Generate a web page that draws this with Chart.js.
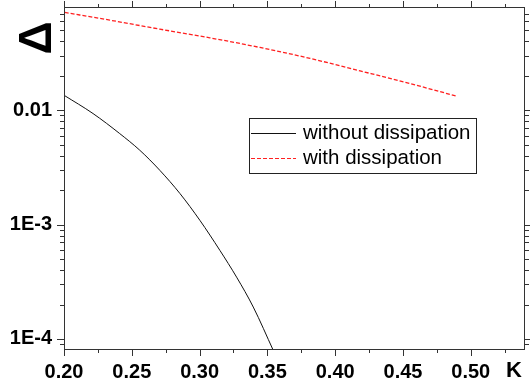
<!DOCTYPE html>
<html>
<head>
<meta charset="utf-8">
<script src="https://cdn.jsdelivr.net/npm/chart.js@4.4.1/dist/chart.umd.min.js"></script>
<style>
  html, body { margin: 0; padding: 0; background: #fff; }
  #wrap { width: 530px; height: 384px; }
</style>
</head>
<body>
<div id="wrap"><canvas id="chart"></canvas></div>
<script>
// values
const kWithout     = [0.200, 0.2214, 0.2411, 0.2559, 0.2707, 0.2855, 0.3002, 0.3150, 0.3273, 0.3396, 0.3544];
const deltaWithout = [0.01353, 0.00936, 0.00625, 0.00447, 0.00298, 0.00187, 0.00109, 0.000594, 0.000347, 0.000190, 0.0000791];

const kWith     = [0.2005, 0.2338, 0.2707, 0.3076, 0.3445, 0.3815, 0.4184, 0.4553, 0.4898];
const deltaWith = [0.0717, 0.0614, 0.0512, 0.0430, 0.0354, 0.0284, 0.0221, 0.0171, 0.01326];

const xMajor = [0.20, 0.25, 0.30, 0.35, 0.40, 0.45, 0.50];
const xMinor = [0.225, 0.275, 0.325, 0.375, 0.425, 0.475, 0.525];
const yMajor = [1e-4, 1e-3, 1e-2];
const yLabels = ['1E-4', '1E-3', '0.01'];
const yMinorSteps = [2, 3, 4, 5, 6, 7, 8, 9];

const labelWithout = 'without dissipation';
const labelWith    = 'with dissipation';

const FRAME = '#333';
const FONT = '"Liberation Sans", Arial, sans-serif';

function toPoints(xs, ys) {
  return xs.map((x, i) => ({ x, y: ys[i] }));
}

function yMinorTicks() {
  const out = [9e-5];
  yMajor.forEach(d => yMinorSteps.forEach(s => out.push(d * s)));
  return out.filter(v => v < 0.08);
}

const frameTicks = {
  id: 'frameTicks',
  afterDraw(chart) {
    const { ctx, chartArea: a, scales: { x, y } } = chart;
    ctx.save();
    ctx.strokeStyle = FRAME;
    ctx.lineWidth = 1;
    ctx.strokeRect(a.left + 0.5, a.top + 0.5, a.right - a.left - 1, a.bottom - a.top - 1);

    const hTick = (v, len) => {
      const px = Math.round(x.getPixelForValue(v)) + 0.5;
      ctx.beginPath();
      ctx.moveTo(px, a.bottom); ctx.lineTo(px, a.bottom + len);
      ctx.moveTo(px, a.top);    ctx.lineTo(px, a.top - len);
      ctx.stroke();
    };
    const vTick = (v, len) => {
      const py = Math.round(y.getPixelForValue(v)) + 0.5;
      ctx.beginPath();
      ctx.moveTo(a.left, py);  ctx.lineTo(a.left - len, py);
      ctx.moveTo(a.right, py); ctx.lineTo(a.right + len, py);
      ctx.stroke();
    };
    xMajor.forEach(v => hTick(v, 6));
    xMinor.forEach(v => hTick(v, 3));
    yMajor.forEach(v => vTick(v, 7));
    yMinorTicks().forEach(v => vTick(v, 4));

    // axis titles
    ctx.fillStyle = '#000';
    ctx.font = 'bold 22px ' + FONT;
    ctx.textAlign = 'center';
    ctx.textBaseline = 'middle';
    ctx.fillText('K', 514, 371);

    ctx.save();
    ctx.translate(37, 38);
    ctx.rotate(-Math.PI / 2);
    ctx.font = 'bold 46px ' + FONT;
    ctx.fillText('\u0394', 0, 1);
    ctx.restore();

    // legend
    const lx = 249.5, ly = 118.5, lw = 227, lh = 55;
    ctx.fillStyle = '#fff';
    ctx.fillRect(lx, ly, lw, lh);
    ctx.strokeStyle = '#222';
    ctx.strokeRect(lx, ly, lw, lh);
    const rows = [
      { ds: chart.data.datasets[0], y: 133.5 },
      { ds: chart.data.datasets[1], y: 158.5 }
    ];
    ctx.font = '20.5px ' + FONT;
    ctx.textAlign = 'left';
    rows.forEach(r => {
      ctx.beginPath();
      ctx.strokeStyle = r.ds.borderColor;
      ctx.lineWidth = 1;
      ctx.setLineDash(r.ds.borderDash || []);
      ctx.moveTo(251, r.y); ctx.lineTo(296, r.y);
      ctx.stroke();
      ctx.setLineDash([]);
      ctx.fillStyle = '#000';
      ctx.fillText(r.ds.label, 303, r.y);
    });
    ctx.restore();
  }
};

new Chart(document.getElementById('chart'), {
  type: 'line',
  data: {
    datasets: [
      {
        label: labelWithout,
        data: toPoints(kWithout, deltaWithout),
        borderColor: '#111',
        borderWidth: 1,
        pointRadius: 0,
        cubicInterpolationMode: 'monotone',
        fill: false
      },
      {
        label: labelWith,
        data: toPoints(kWith, deltaWith),
        borderColor: '#ff2020',
        borderWidth: 1.3,
        borderDash: [4, 2],
        pointRadius: 0,
        cubicInterpolationMode: 'monotone',
        fill: false
      }
    ]
  },
  options: {
    responsive: true,
    maintainAspectRatio: false,
    animation: false,
    layout: { padding: { top: 7, right: 5, left: 0, bottom: 0 } },
    plugins: { legend: { display: false }, tooltip: { enabled: false } },
    scales: {
      x: {
        type: 'linear',
        min: 0.20,
        max: 0.54,
        afterBuildTicks: s => { s.ticks = xMajor.map(v => ({ value: v })); },
        afterFit: s => { s.height = 34; s.paddingLeft = 0; s.paddingRight = 0; },
        grid: { display: false, drawTicks: false },
        border: { display: false },
        ticks: {
          padding: 10,
          color: '#000',
          font: { family: FONT, size: 20, weight: 'bold' },
          maxRotation: 0,
          autoSkip: false,
          callback: v => Number(v).toFixed(2)
        }
      },
      y: {
        type: 'logarithmic',
        min: 8e-5,
        max: 0.08,
        afterBuildTicks: s => { s.ticks = yMajor.map(v => ({ value: v })); },
        afterFit: s => { s.width = 64; s.paddingTop = 0; s.paddingBottom = 0; },
        grid: { display: false, drawTicks: false },
        border: { display: false },
        ticks: {
          padding: 12,
          color: '#000',
          font: { family: FONT, size: 20, weight: 'bold' },
          autoSkip: false,
          callback: v => yLabels[yMajor.findIndex(m => Math.abs(m - v) / m < 1e-6)] ?? ''
        }
      }
    }
  },
  plugins: [frameTicks]
});
</script>
</body>
</html>
